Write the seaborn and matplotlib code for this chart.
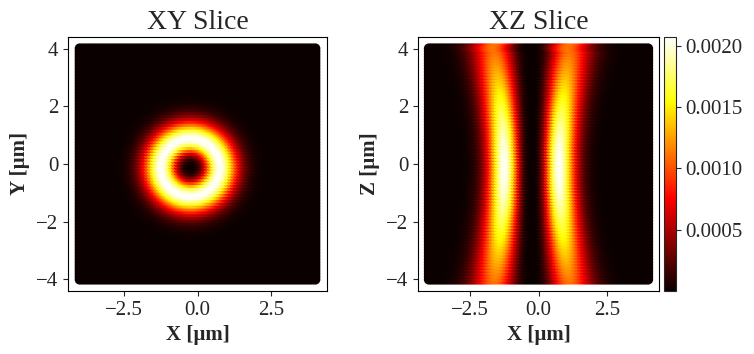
import numpy as np
import pandas as pd
import matplotlib
matplotlib.use("Agg")
import matplotlib.pyplot as plt
import seaborn as sns
from matplotlib.colors import Normalize
from matplotlib.cm import ScalarMappable

# Параметры пучка (оценены по картинке)
grid_extent = 4.0          # мкм, сетка от -4 до 4
n_points = 80              # точек на ось
beam_center_x = -0.18      # смещение центра кольца, мкм
ring_radius = 1.0          # радиус максимума кольца при z=0, мкм
ring_order = 1.6           # порядок кольцевой моды
rayleigh_range = 4.3       # zR, мкм
peak_intensity = 0.00207   # максимум цветовой шкалы
cbar_ticks = [0.0005, 0.0010, 0.0015, 0.0020]
xy_ticks = [-4, -2, 0, 2, 4]
x_ticks = [-2.5, 0.0, 2.5]

sns.set_style("ticks")
plt.rcParams['font.family'] = ['Liberation Serif', 'DejaVu Serif']

axis_vals = np.linspace(-grid_extent, grid_extent, n_points)


def donut_intensity(x, y, z):
    # кольцевой пучок: расширение по z и спад пиковой интенсивности
    scale = np.sqrt(1 + (z / rayleigh_range) ** 2)
    r = np.sqrt((x - beam_center_x) ** 2 + y ** 2)
    t2 = (r / (ring_radius * scale)) ** 2
    return peak_intensity / scale ** 2 * (t2 * np.exp(1 - t2)) ** ring_order


gx, gy = np.meshgrid(axis_vals, axis_vals)
df_xy = pd.DataFrame({'x': gx.ravel(), 'y': gy.ravel()})
df_xy['I'] = donut_intensity(df_xy['x'], df_xy['y'], 0.0)

gx, gz = np.meshgrid(axis_vals, axis_vals)
df_xz = pd.DataFrame({'x': gx.ravel(), 'z': gz.ravel()})
df_xz['I'] = donut_intensity(df_xz['x'], 0.0, df_xz['z'])

fig = plt.figure(figsize=(7.54, 3.54), dpi=100)
ax1 = fig.add_axes([0.0902, 0.178, 0.3435, 0.7175])
ax2 = fig.add_axes([0.5544, 0.178, 0.3196, 0.7175])
cax = fig.add_axes([0.8806, 0.178, 0.0159, 0.7175])

norm = Normalize(0, peak_intensity)
sns.scatterplot(data=df_xy, x='x', y='y', hue='I', palette='hot', hue_norm=norm,
                s=55, marker='o', linewidth=0, edgecolor='none', legend=False, ax=ax1)
sns.scatterplot(data=df_xz, x='x', y='z', hue='I', palette='hot', hue_norm=norm,
                s=55, marker='o', linewidth=0, edgecolor='none', legend=False, ax=ax2)

for ax, title, ylab in [(ax1, 'XY Slice', 'Y [µm]'), (ax2, 'XZ Slice', 'Z [µm]')]:
    ax.set_xlim(-4.4, 4.4)
    ax.set_ylim(-4.4, 4.4)
    ax.set_xticks(x_ticks)
    ax.set_yticks(xy_ticks)
    ax.set_title(title, fontsize=20)
    ax.set_xlabel('X [µm]', fontsize=15, fontweight='bold')
    ax.set_ylabel(ylab, fontsize=15, fontweight='bold')
    ax.tick_params(labelsize=15)
    for sp in ax.spines.values():
        sp.set_visible(True)
        sp.set_color('black')

sm = ScalarMappable(norm=norm, cmap='hot')
cb = fig.colorbar(sm, cax=cax)
cb.set_ticks(cbar_ticks)
cb.ax.set_yticklabels([f'{t:.4f}' for t in cbar_ticks])
cb.ax.tick_params(labelsize=15)

fig.savefig('out.png', dpi=100)
